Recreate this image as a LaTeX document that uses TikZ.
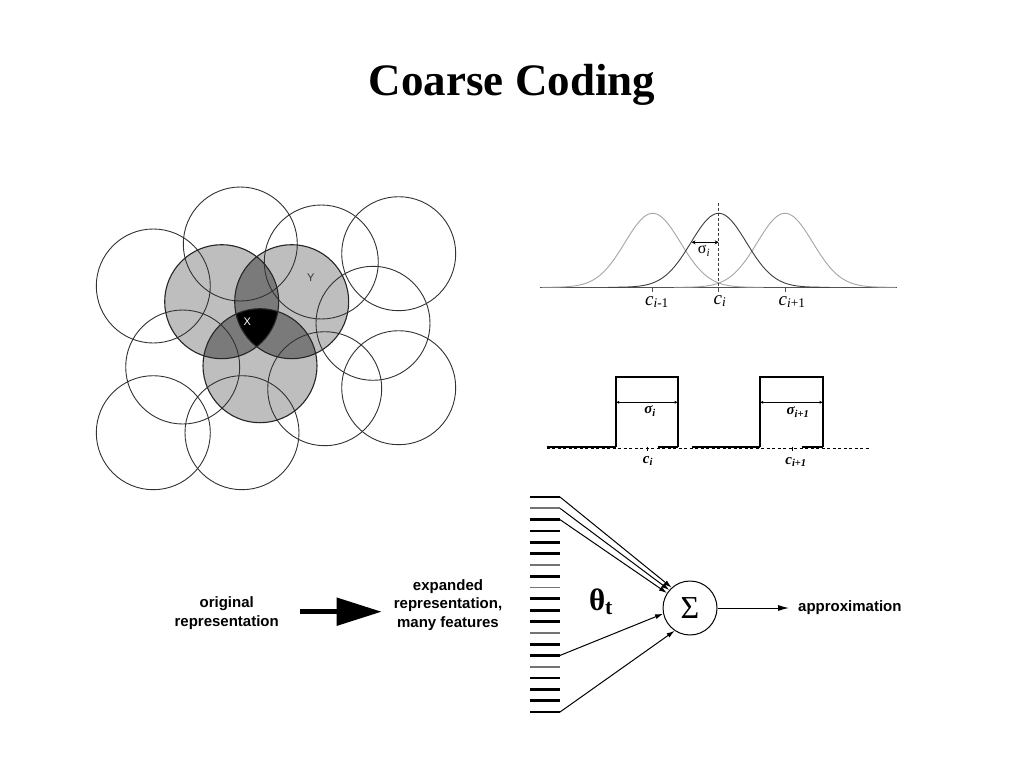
\documentclass[tikz,border=0pt]{standalone}
\usepackage{fontspec}
\setmainfont{Liberation Serif}
\setsansfont{Liberation Sans}
\usetikzlibrary{arrows.meta}
\definecolor{shadeA}{RGB}{190,190,190}
\definecolor{shadeB}{RGB}{122,122,122}
\definecolor{circline}{RGB}{50,50,50}
\definecolor{lightcurve}{RGB}{165,165,165}
\definecolor{darkcurve}{RGB}{60,60,60}
\definecolor{axisgray}{RGB}{80,80,80}
\tikzset{
  circ/.style={draw=circline, line width=0.9pt},
  shcirc/.style={draw=black!85, line width=1.1pt},
  barblk/.style={line width=2.8pt, black},
  bargry/.style={line width=1.7pt, black!55},
  wire/.style={line width=1pt, -{Latex[length=8pt,width=5pt]}},
  lbl/.style={font=\sffamily\bfseries\fontsize{15}{18.5}\selectfont, inner sep=0pt, align=center},
  gausslbl/.style={font=\itshape\fontsize{19}{19}\selectfont},
  boxlbl/.style={font=\bfseries\itshape\fontsize{15}{15}\selectfont},
  boxline/.style={line width=1.8pt},
}
\begin{document}
\begin{tikzpicture}[x=1pt,y=-1pt]
\useasboundingbox (0,0) rectangle (1024,768);
\fill[white] (0,0) rectangle (1024,768);

% title
\node[font=\bfseries\fontsize{45}{50}\selectfont] (title) at (512,85) {Coarse Coding};

% ---------- coarse coding circles ----------
\coordinate (A) at (221.7,301.7);
\coordinate (B) at (291.7,301.7);
\coordinate (C) at (260,365.7);
\fill[shadeA] (A) circle (57pt);
\fill[shadeA] (B) circle (57pt);
\fill[shadeA] (C) circle (57pt);
\begin{scope}
  \clip (A) circle (57pt);
  \fill[shadeB] (B) circle (57pt);
  \fill[shadeB] (C) circle (57pt);
\end{scope}
\begin{scope}
  \clip (B) circle (57pt);
  \fill[shadeB] (C) circle (57pt);
\end{scope}
\begin{scope}
  \clip (A) circle (57pt);
  \clip (B) circle (57pt);
  \fill[black] (C) circle (57pt);
\end{scope}
\foreach \p in {(153.3,286),(240.3,244),(321.3,262),(398.7,253.7),(373,323.3),
                (182.7,367),(324.7,388.7),(398.7,387.7),(153.3,432.7),(242,432.7)}
  \draw[circ] \p circle (57pt);
\draw[shcirc] (A) circle (57pt);
\draw[shcirc] (B) circle (57pt);
\draw[shcirc] (C) circle (57pt);
\node[font=\sffamily\fontsize{11}{11}\selectfont, black!80] (ylab) at (310.7,278) {Y};
\node[font=\sffamily\fontsize{11}{11}\selectfont, white] (xlab) at (247.3,321.7) {X};

% ---------- gaussian features ----------
\draw[axisgray, line width=0.9pt] (540,287.3) -- (897,287.3);
\draw[lightcurve, line width=0.9pt] plot[domain=-4:4, samples=90, smooth] ({652.7+27.7*\x},{287.3-74*exp(-\x*\x/2)});
\draw[lightcurve, line width=0.9pt] plot[domain=-4:4, samples=90, smooth] ({785+27.7*\x},{287.3-74*exp(-\x*\x/2)});
\draw[darkcurve, line width=0.9pt] plot[domain=-4:4, samples=90, smooth] ({718.7+27.7*\x},{287.3-74*exp(-\x*\x/2)});
\draw[darkcurve, line width=0.7pt, dash pattern=on 3pt off 2pt] (718.7,203) -- (718.7,287.3);
\foreach \c in {652.7,718.7,785} \draw[axisgray, line width=0.8pt] (\c,287.3) -- (\c,292);
\coordinate (sgA) at (691.5,242.3);
\coordinate (sgB) at (718.7,242.3);
\draw[line width=0.7pt, {Stealth[length=4pt,width=4pt]}-{Stealth[length=4pt,width=4pt]}] (sgA) -- (sgB);
\node[font=\fontsize{16}{16}\selectfont] (sgl) at (704,251) {σ\textsubscript{\textit{i}}};
\node[gausslbl] (cim) at (657,302) {c\textsubscript{\textit{i}\upshape -1}};
\node[gausslbl] (ci) at (720,301) {c\textsubscript{\textit{i}}};
\node[gausslbl] (cip) at (792,302) {c\textsubscript{\textit{i}\upshape +1}};

% ---------- binary (box) features ----------
\draw[line width=1.5pt, dash pattern=on 3pt off 2.5pt] (546.7,448.5) -- (870,448.5);
\draw[line width=1.8pt] (546.7,446.7) -- (616,446.7);
\draw[line width=1.8pt] (658,446.7) -- (677.7,446.7);
\draw[line width=1.8pt] (691.7,446.7) -- (760,446.7);
\draw[line width=1.8pt] (801.7,446.7) -- (822.7,446.7);
\draw[boxline] (616,446.7) -- (616,377.3) -- (677.7,377.3) -- (677.7,446.7);
\draw[boxline] (760,446.7) -- (760,377.3) -- (822.7,377.3) -- (822.7,446.7);
\coordinate (b1a) at (616,402.3); \coordinate (b1b) at (677.7,402.3);
\coordinate (b2a) at (760,402.3); \coordinate (b2b) at (822.7,402.3);
\draw[line width=1.6pt, {Latex[length=3pt,width=3pt]}-{Latex[length=3pt,width=3pt]}] (b1a) -- (b1b);
\draw[line width=1.6pt, {Latex[length=3pt,width=3pt]}-{Latex[length=3pt,width=3pt]}] (b2a) -- (b2b);
\draw[line width=1pt] (647,446.7) -- (647,451);
\draw[line width=1pt] (792,446.7) -- (792,451);
\node[boxlbl] (s1) at (650,411) {σ\textsubscript{\textit{i}}};
\node[boxlbl] (s2) at (798,412) {σ\textsubscript{\textit{i}+1}};
\node[boxlbl] (c1) at (648,461) {c\textsubscript{\textit{i}}};
\node[boxlbl] (c2) at (796,462) {c\textsubscript{\textit{i}+1}};

% ---------- network ----------
\foreach \k in {1,3,4,5,6,8,10,11,12,14,15,17,18,19,20}{
  \pgfmathsetmacro\yy{497+(\k-1)*11.316}
  \coordinate (bar\k) at (560,\yy);
  \draw[barblk] (530,\yy) -- (bar\k);
}
\foreach \k in {2,7,9,13,16}{
  \pgfmathsetmacro\yy{497+(\k-1)*11.316}
  \coordinate (bar\k) at (560,\yy);
  \draw[bargry] (530,\yy) -- (bar\k);
}
\node[circle, draw, line width=1pt, minimum size=54pt, inner sep=0pt, font=\fontsize{32}{32}\selectfont] (sig) at (690,608) {Σ};
\draw[wire] (bar1) -- (sig.132);
\draw[wire] (bar2) -- (sig.139);
\draw[wire] (bar3) -- (sig.147);
\draw[wire] (bar15) -- (sig.192);
\draw[wire] (bar20) -- (sig.236);
\node[font=\bfseries\fontsize{31}{31}\selectfont] (theta) at (601,602) {θ\textsubscript{t}};

\node[lbl, anchor=west] (approx) at (798,608) {approximation};
\draw[line width=1pt, -{Latex[length=11pt,width=6pt]}, shorten >=9pt] (sig.east) -- (approx.west);

\node[lbl] (orig) at (226.7,613) {original\\representation};
\node[lbl] (expd) at (448,605) {expanded\\representation,\\many features};
\coordinate (bigA) at (300,611.7);
\coordinate (bigB) at (381.7,611.7);
\draw[line width=5pt, -{Triangle[length=45pt,width=27pt]}] (bigA) -- (bigB);
\end{tikzpicture}
\end{document}
